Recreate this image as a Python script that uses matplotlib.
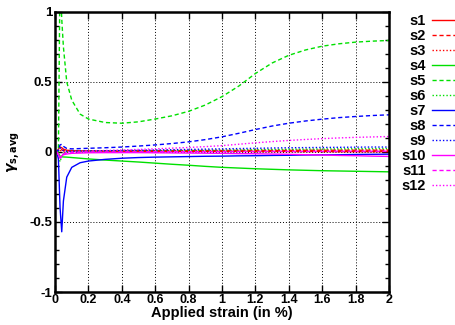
import numpy as np
import matplotlib
matplotlib.use('Agg')
import matplotlib.pyplot as plt
from matplotlib.ticker import MultipleLocator

plt.rcParams['font.family'] = ['Liberation Sans', 'DejaVu Sans']
plt.rcParams['font.weight'] = 'bold'

# applied strain (%)
strain = [0.0, 0.01, 0.02, 0.03, 0.04, 0.05, 0.07, 0.1, 0.15, 0.2, 0.3, 0.4, 0.5, 0.6,
          0.7, 0.8, 0.9, 1.0, 1.1, 1.2, 1.3, 1.4, 1.5, 1.6, 1.7, 1.8, 1.9, 2.0]

s1 = [0, 0, 0.02, 0.035, 0.03, 0.02, 0.012, 0.01, 0.008, 0.007, 0.006, 0.005, 0.005, 0.005,
      0.005, 0.004, 0.004, 0.004, 0.004, 0.003, 0.003, 0.003, 0.003, 0.003, 0.002, 0.002, 0.002, 0.002]
s2 = [0, 0, 0.01, 0.02, 0.015, 0.01, 0.008, 0.007, 0.007, 0.007, 0.008, 0.008, 0.009, 0.009,
      0.01, 0.01, 0.01, 0.01, 0.011, 0.011, 0.011, 0.011, 0.012, 0.012, 0.012, 0.012, 0.012, 0.012]
s3 = [0, 0, -0.01, 0.01, 0.008, 0.006, 0.005, 0.005, 0.005, 0.006, 0.006, 0.007, 0.007, 0.008,
      0.008, 0.009, 0.009, 0.01, 0.01, 0.011, 0.011, 0.012, 0.012, 0.013, 0.013, 0.014, 0.014, 0.015]
s4 = [0, 0, -0.01, -0.03, -0.035, -0.036, -0.037, -0.04, -0.045, -0.05, -0.058, -0.065, -0.072, -0.08,
      -0.088, -0.095, -0.103, -0.11, -0.115, -0.12, -0.124, -0.128, -0.131, -0.134, -0.136, -0.138, -0.14, -0.142]
s5 = [0, 0, 0.0, 1.3, 0.95, 0.75, 0.5, 0.37, 0.27, 0.235, 0.21, 0.205, 0.215, 0.235,
      0.258, 0.29, 0.335, 0.395, 0.47, 0.56, 0.635, 0.69, 0.728, 0.755, 0.772, 0.784, 0.791, 0.796]
s6 = [0, 0, -0.03, -0.07, -0.03, -0.01, 0, 0.005, 0.005, 0.005, 0.006, 0.007, 0.008, 0.009,
      0.01, 0.011, 0.012, 0.013, 0.015, 0.016, 0.018, 0.019, 0.02, 0.021, 0.022, 0.023, 0.024, 0.025]
s7 = [0, 0, -0.05, -0.4, -0.57, -0.35, -0.18, -0.11, -0.077, -0.065, -0.053, -0.045, -0.04, -0.037,
      -0.035, -0.033, -0.031, -0.03, -0.028, -0.027, -0.025, -0.024, -0.022, -0.021, -0.02, -0.018, -0.017, -0.016]
s8 = [0, 0, 0.02, 0.05, 0.055, 0.04, 0.025, 0.022, 0.024, 0.026, 0.03, 0.035, 0.042, 0.05,
      0.06, 0.072, 0.088, 0.108, 0.133, 0.16, 0.185, 0.205, 0.221, 0.234, 0.245, 0.253, 0.26, 0.265]
s9 = [0, 0, 0.01, 0.03, 0.02, 0.01, 0.005, 0.005, 0.006, 0.007, 0.008, 0.01, 0.012, 0.014,
      0.016, 0.018, 0.02, 0.022, 0.024, 0.026, 0.028, 0.03, 0.031, 0.032, 0.033, 0.034, 0.035, 0.035]
s10 = [0, 0, -0.02, -0.04, -0.03, -0.02, -0.015, -0.01, -0.008, -0.006, -0.005, -0.005, -0.005, -0.006,
       -0.007, -0.008, -0.009, -0.01, -0.012, -0.013, -0.015, -0.017, -0.02, -0.022, -0.025, -0.027, -0.03, -0.032]
s11 = [0, 0, -0.02, -0.045, -0.03, -0.015, -0.008, -0.004, -0.002, 0, 0, 0.001, 0.001, 0.002,
       0.002, 0.002, 0.003, 0.003, 0.003, 0.003, 0.004, 0.004, 0.004, 0.004, 0.005, 0.005, 0.005, 0.005]
s12 = [0, 0, -0.02, -0.05, -0.03, -0.01, 0, 0.002, 0.004, 0.006, 0.01, 0.014, 0.018, 0.022,
       0.027, 0.032, 0.038, 0.045, 0.055, 0.065, 0.074, 0.082, 0.089, 0.095, 0.1, 0.104, 0.107, 0.11]

series = [s1, s2, s3, s4, s5, s6, s7, s8, s9, s10, s11, s12]
names = ['s%d' % (i + 1) for i in range(12)]
colors = ['#ff0000', '#00e000', '#0000ff', '#ff00ff']
styles = ['-', (0, (3, 2)), (0, (1, 1.5))]
xticks = [0, 0.2, 0.4, 0.6, 0.8, 1.0, 1.2, 1.4, 1.6, 1.8, 2.0]
xticklabels = ['0', '0.2', '0.4', '0.6', '0.8', '1', '1.2', '1.4', '1.6', '1.8', '2']
yticks = [-1, -0.5, 0, 0.5, 1]
yticklabels = ['-1', '-0.5', '0', '0.5', '1']

fig = plt.figure(figsize=(4.55, 3.25), dpi=100)
ax = fig.add_axes([0.121, 0.1015, 0.734, 0.862])

for i, ys in enumerate(series):
    ax.plot(strain, ys, color=colors[i // 3], linestyle=styles[i % 3],
            linewidth=1.0, label=names[i])

ax.set_xlim(0, 2)
ax.set_ylim(-1, 1)
ax.set_xticks(xticks)
ax.set_xticklabels(xticklabels)
ax.set_yticks(yticks)
ax.set_yticklabels(yticklabels)
ax.yaxis.set_minor_locator(MultipleLocator(0.1))
ax.tick_params(which='both', direction='in', top=True, right=True,
               labelsize=9.5, pad=2)
ax.tick_params(axis='x', labelsize=9, pad=1.5)
ax.tick_params(which='major', length=5, width=1)
ax.tick_params(which='minor', length=3, width=1)
ax.grid(True, which='major', color='black', linestyle=(0, (1, 2)), linewidth=0.7)
for sp in ax.spines.values():
    sp.set_linewidth(1.8)

ax.set_xlabel('Applied strain (in %)', fontsize=10.5, fontweight='bold', labelpad=0)
ax.set_ylabel(r'$\gamma_{\mathbf{s,avg}}$', fontsize=10, labelpad=5)

ax.legend(loc='upper left', bbox_to_anchor=(1.006, 1.03), frameon=False,
          markerfirst=False, labelspacing=0.07, handlelength=2.6,
          handletextpad=0.45, borderpad=0.2, prop={'weight': 'bold', 'size': 10.5})

fig.savefig('out.png', dpi=100)
